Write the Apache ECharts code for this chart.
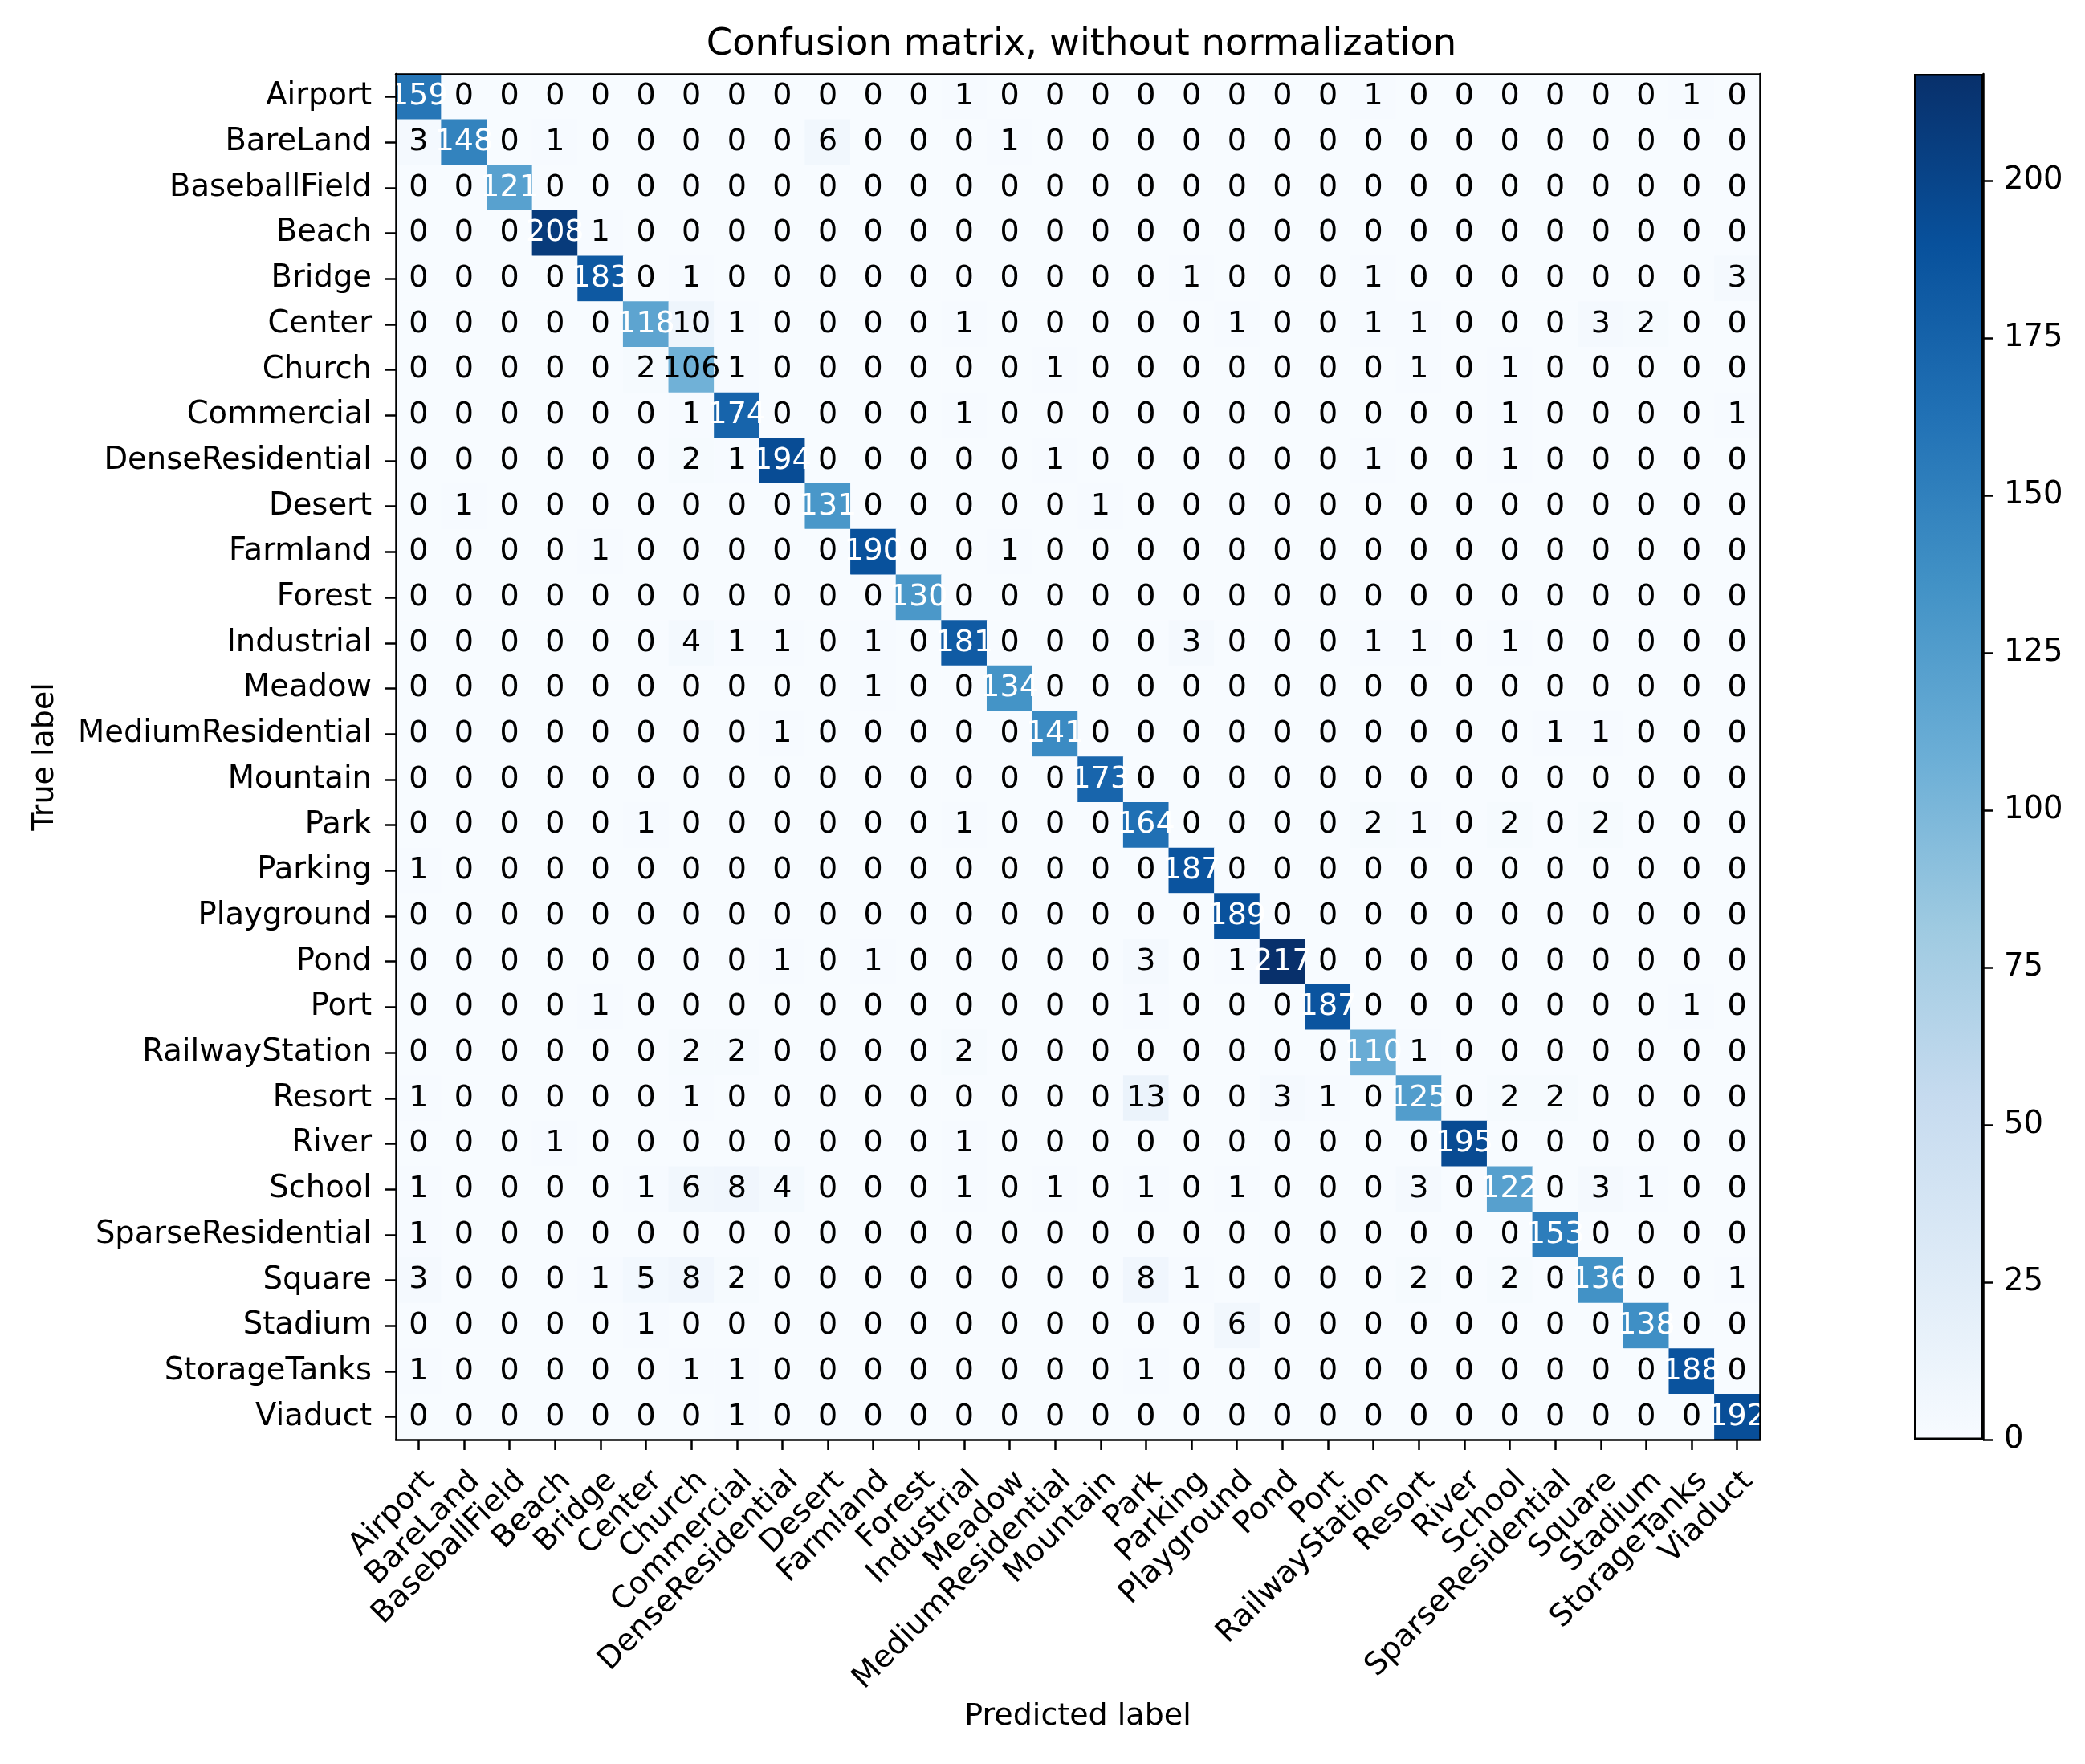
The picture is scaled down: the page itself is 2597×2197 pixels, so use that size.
<!DOCTYPE html>
<html>
<head>
<meta charset="utf-8">
<title>Confusion matrix, without normalization</title>
<script src="https://cdn.jsdelivr.net/npm/echarts@6/dist/echarts.min.js"></script>
<style>
  html, body { margin: 0; padding: 0; background: #ffffff; }
  #chart { width: 2597px; height: 2197px; }
</style>
</head>
<body>
<div id="chart"></div>
<script>
// class names, used for both axes (true label = rows, predicted label = columns)
const classes = [
  "Airport", "BareLand", "BaseballField", "Beach", "Bridge", "Center", "Church",
  "Commercial", "DenseResidential", "Desert", "Farmland", "Forest", "Industrial",
  "Meadow", "MediumResidential", "Mountain", "Park", "Parking", "Playground", "Pond",
  "Port", "RailwayStation", "Resort", "River", "School", "SparseResidential",
  "Square", "Stadium", "StorageTanks", "Viaduct"
];

// counts, one row per true label
const matrix = [
  [159,0,0,0,0,0,0,0,0,0, 0,0,1,0,0,0,0,0,0,0, 0,1,0,0,0,0,0,0,1,0],
  [3,148,0,1,0,0,0,0,0,6, 0,0,0,1,0,0,0,0,0,0, 0,0,0,0,0,0,0,0,0,0],
  [0,0,121,0,0,0,0,0,0,0, 0,0,0,0,0,0,0,0,0,0, 0,0,0,0,0,0,0,0,0,0],
  [0,0,0,208,1,0,0,0,0,0, 0,0,0,0,0,0,0,0,0,0, 0,0,0,0,0,0,0,0,0,0],
  [0,0,0,0,183,0,1,0,0,0, 0,0,0,0,0,0,0,1,0,0, 0,1,0,0,0,0,0,0,0,3],
  [0,0,0,0,0,118,10,1,0,0, 0,0,1,0,0,0,0,0,1,0, 0,1,1,0,0,0,3,2,0,0],
  [0,0,0,0,0,2,106,1,0,0, 0,0,0,0,1,0,0,0,0,0, 0,0,1,0,1,0,0,0,0,0],
  [0,0,0,0,0,0,1,174,0,0, 0,0,1,0,0,0,0,0,0,0, 0,0,0,0,1,0,0,0,0,1],
  [0,0,0,0,0,0,2,1,194,0, 0,0,0,0,1,0,0,0,0,0, 0,1,0,0,1,0,0,0,0,0],
  [0,1,0,0,0,0,0,0,0,131, 0,0,0,0,0,1,0,0,0,0, 0,0,0,0,0,0,0,0,0,0],
  [0,0,0,0,1,0,0,0,0,0, 190,0,0,1,0,0,0,0,0,0, 0,0,0,0,0,0,0,0,0,0],
  [0,0,0,0,0,0,0,0,0,0, 0,130,0,0,0,0,0,0,0,0, 0,0,0,0,0,0,0,0,0,0],
  [0,0,0,0,0,0,4,1,1,0, 1,0,181,0,0,0,0,3,0,0, 0,1,1,0,1,0,0,0,0,0],
  [0,0,0,0,0,0,0,0,0,0, 1,0,0,134,0,0,0,0,0,0, 0,0,0,0,0,0,0,0,0,0],
  [0,0,0,0,0,0,0,0,1,0, 0,0,0,0,141,0,0,0,0,0, 0,0,0,0,0,1,1,0,0,0],
  [0,0,0,0,0,0,0,0,0,0, 0,0,0,0,0,173,0,0,0,0, 0,0,0,0,0,0,0,0,0,0],
  [0,0,0,0,0,1,0,0,0,0, 0,0,1,0,0,0,164,0,0,0, 0,2,1,0,2,0,2,0,0,0],
  [1,0,0,0,0,0,0,0,0,0, 0,0,0,0,0,0,0,187,0,0, 0,0,0,0,0,0,0,0,0,0],
  [0,0,0,0,0,0,0,0,0,0, 0,0,0,0,0,0,0,0,189,0, 0,0,0,0,0,0,0,0,0,0],
  [0,0,0,0,0,0,0,0,1,0, 1,0,0,0,0,0,3,0,1,217, 0,0,0,0,0,0,0,0,0,0],
  [0,0,0,0,1,0,0,0,0,0, 0,0,0,0,0,0,1,0,0,0, 187,0,0,0,0,0,0,0,1,0],
  [0,0,0,0,0,0,2,2,0,0, 0,0,2,0,0,0,0,0,0,0, 0,110,1,0,0,0,0,0,0,0],
  [1,0,0,0,0,0,1,0,0,0, 0,0,0,0,0,0,13,0,0,3, 1,0,125,0,2,2,0,0,0,0],
  [0,0,0,1,0,0,0,0,0,0, 0,0,1,0,0,0,0,0,0,0, 0,0,0,195,0,0,0,0,0,0],
  [1,0,0,0,0,1,6,8,4,0, 0,0,1,0,1,0,1,0,1,0, 0,0,3,0,122,0,3,1,0,0],
  [1,0,0,0,0,0,0,0,0,0, 0,0,0,0,0,0,0,0,0,0, 0,0,0,0,0,153,0,0,0,0],
  [3,0,0,0,1,5,8,2,0,0, 0,0,0,0,0,0,8,1,0,0, 0,0,2,0,2,0,136,0,0,1],
  [0,0,0,0,0,1,0,0,0,0, 0,0,0,0,0,0,0,0,6,0, 0,0,0,0,0,0,0,138,0,0],
  [1,0,0,0,0,0,1,1,0,0, 0,0,0,0,0,0,1,0,0,0, 0,0,0,0,0,0,0,0,188,0],
  [0,0,0,0,0,0,0,1,0,0, 0,0,0,0,0,0,0,0,0,0, 0,0,0,0,0,0,0,0,0,192]
];

// colorbar tick labels
const colorTicks = [0, 25, 50, 75, 100, 125, 150, 175, 200];

// matplotlib "Blues" colormap stops
const blues = ["#f7fbff", "#deebf7", "#c6dbef", "#9ecae1", "#6baed6",
               "#4292c6", "#2171b5", "#08519c", "#08306b"];

const FONT = "DejaVu Sans";
const LINE = 2.5;
const TICKFONT = 38.5;

let maxVal = 0;
matrix.forEach(function (row) {
  row.forEach(function (v) { if (v > maxVal) maxVal = v; });
});
const thresh = maxVal / 2;

// heatmap cells [predicted, true, count]
let cells = [];
matrix.forEach(function (row, i) {
  row.forEach(function (v, j) {
    cells.push({
      value: [j, i, v],
      label: { color: v > thresh ? "#ffffff" : "#000000" }
    });
  });
});

let gradStops = blues.map(function (c, k) {
  return { offset: k / (blues.length - 1), color: c };
});

let myChart = echarts.init(document.getElementById("chart"), null, { renderer: "canvas" });

let option = {
  backgroundColor: "#ffffff",
  animation: false,
  textStyle: { fontFamily: FONT },
  title: {
    text: "Confusion matrix, without normalization",
    left: 1342,
    top: 27,
    textAlign: "center",
    textStyle: { fontFamily: FONT, fontSize: 46.5, fontWeight: "normal", color: "#000" }
  },
  grid: [
    { left: 493, top: 92, width: 1699, height: 1701 },
    { left: 2384, top: 92, width: 86, height: 1701 }
  ],
  visualMap: {
    show: false,
    type: "continuous",
    seriesIndex: 0,
    min: 0,
    max: maxVal,
    inRange: { color: blues }
  },
  xAxis: [
    {
      gridIndex: 0,
      type: "category",
      data: classes,
      position: "bottom",
      name: "Predicted label",
      nameLocation: "middle",
      nameGap: 326,
      nameTextStyle: { fontFamily: FONT, fontSize: 38, color: "#000" },
      axisLine: { show: true, lineStyle: { color: "#000", width: LINE } },
      axisTick: { show: true, alignWithLabel: true, length: 13, lineStyle: { color: "#000", width: LINE } },
      axisLabel: {
        interval: 0, rotate: 45, margin: 32, verticalAlign: "top",
        fontFamily: FONT, fontSize: TICKFONT, color: "#000"
      },
      splitLine: { show: false },
      z: 10
    },
    {
      gridIndex: 0,
      type: "category",
      data: classes,
      position: "top",
      axisLine: { show: true, lineStyle: { color: "#000", width: LINE } },
      axisTick: { show: false },
      axisLabel: { show: false },
      splitLine: { show: false },
      z: 10
    },
    {
      gridIndex: 1,
      type: "category",
      data: ["cbar"],
      show: false
    }
  ],
  yAxis: [
    {
      gridIndex: 0,
      type: "category",
      data: classes,
      inverse: true,
      position: "left",
      name: "True label",
      nameLocation: "middle",
      nameRotate: 90,
      nameGap: 418,
      nameTextStyle: { fontFamily: FONT, fontSize: 38, color: "#000" },
      axisLine: { show: true, lineStyle: { color: "#000", width: LINE } },
      axisTick: { show: true, alignWithLabel: true, length: 13, lineStyle: { color: "#000", width: LINE } },
      axisLabel: { interval: 0, margin: 30, fontFamily: FONT, fontSize: TICKFONT, color: "#000" },
      splitLine: { show: false },
      z: 10
    },
    {
      gridIndex: 0,
      type: "category",
      data: classes,
      inverse: true,
      position: "right",
      axisLine: { show: true, lineStyle: { color: "#000", width: LINE } },
      axisTick: { show: false },
      axisLabel: { show: false },
      splitLine: { show: false },
      z: 10
    },
    {
      gridIndex: 1,
      type: "value",
      min: 0,
      max: maxVal,
      position: "right",
      axisLine: { show: true, lineStyle: { color: "#000", width: LINE } },
      axisTick: { show: true, length: 13, customValues: colorTicks, lineStyle: { color: "#000", width: LINE } },
      axisLabel: { margin: 26, customValues: colorTicks, fontFamily: FONT, fontSize: TICKFONT, color: "#000" },
      splitLine: { show: false },
      z: 10
    }
  ],
  series: [
    {
      type: "heatmap",
      xAxisIndex: 0,
      yAxisIndex: 0,
      data: cells,
      label: {
        show: true,
        fontFamily: FONT,
        fontSize: 38,
        formatter: function (p) { return String(p.value[2]); }
      },
      emphasis: { disabled: true },
      progressive: 0
    },
    {
      // colorbar
      type: "bar",
      xAxisIndex: 2,
      yAxisIndex: 2,
      data: [maxVal],
      barWidth: "100%",
      silent: true,
      itemStyle: {
        color: new echarts.graphic.LinearGradient(0, 1, 0, 0, gradStops),
        borderColor: "#000",
        borderWidth: LINE
      }
    }
  ]
};

myChart.setOption(option);
</script>
</body>
</html>
